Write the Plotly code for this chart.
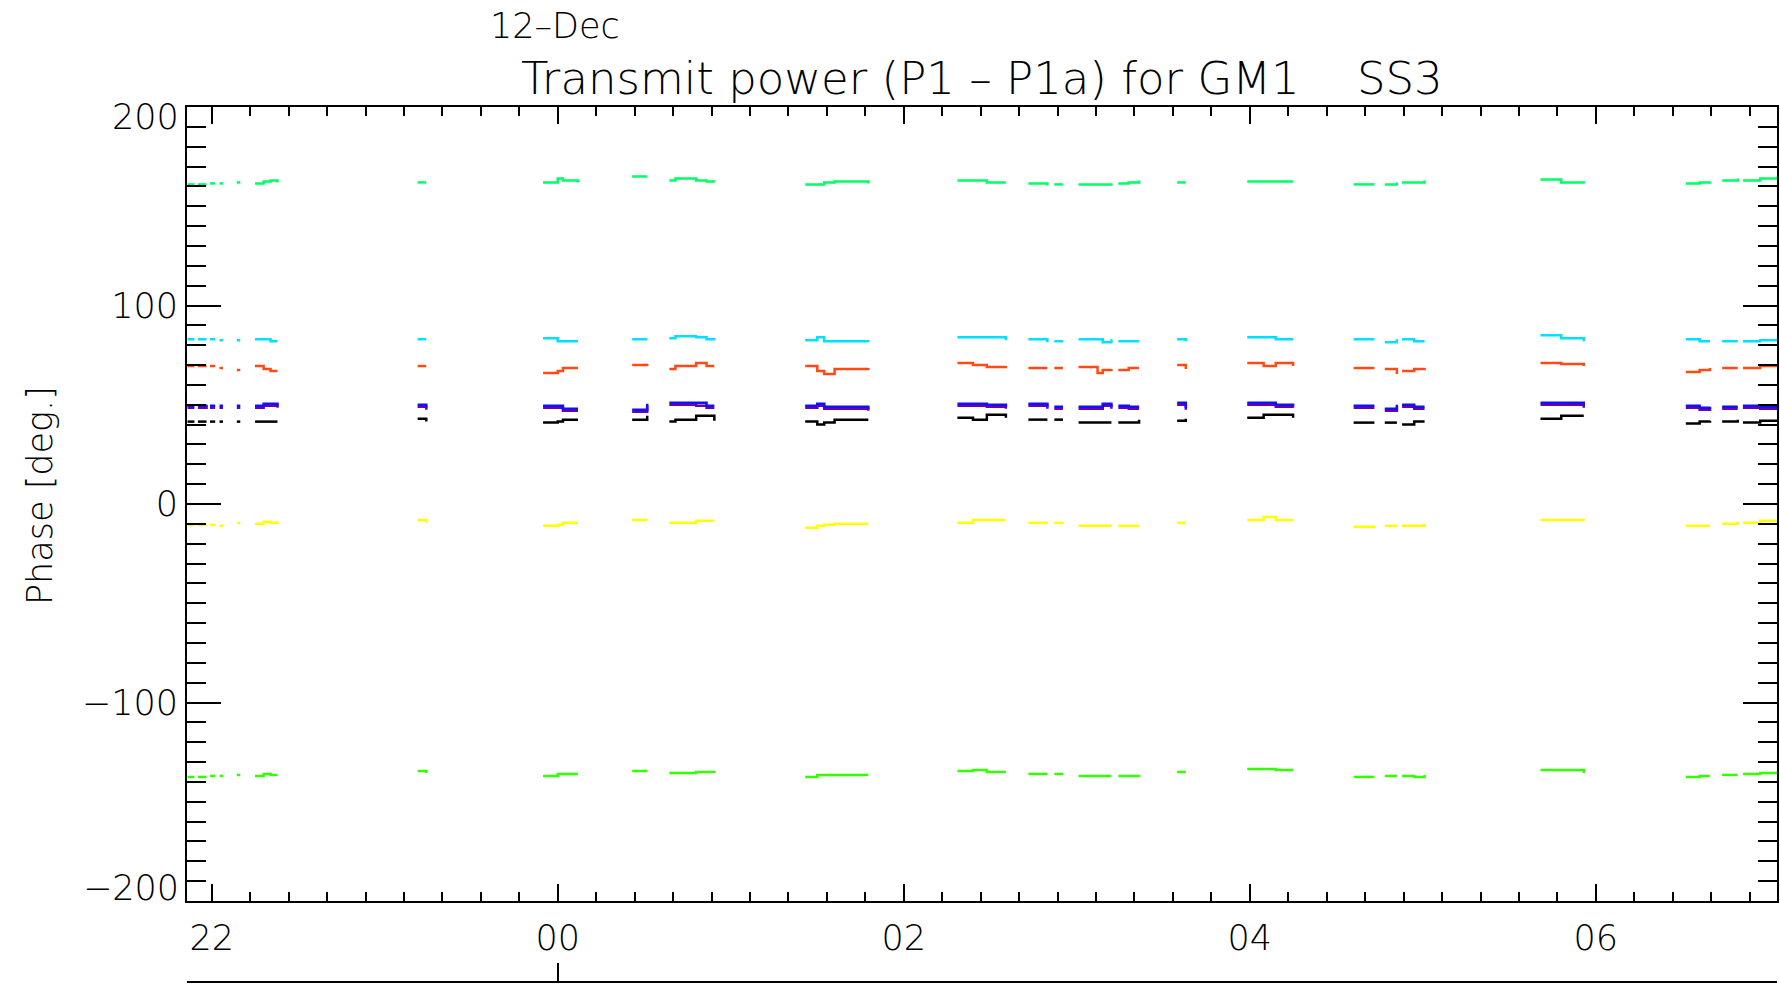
import plotly.graph_objects as go

# ---- data (time in hours relative to 00:00 on 12-Dec; negative = 11-Dec) ----
seg_times = [
    [-2.14, -2.10], [-2.08, -2.03], [-2.01, -1.98], [-1.955, -1.935], [-1.855, -1.835],
    [-1.75, -1.70, -1.66, -1.62], [-0.81, -0.76], [-0.085, 0.0, 0.03, 0.117],
    [0.43, 0.517], [0.645, 0.68, 0.80, 0.86, 0.905], [1.43, 1.50, 1.54, 1.60, 1.795],
    [2.31, 2.40, 2.48, 2.59], [2.72, 2.83], [2.87, 2.92], [3.01, 3.12, 3.15, 3.20],
    [3.24, 3.30, 3.36], [3.58, 3.63], [3.985, 4.08, 4.15, 4.25], [4.60, 4.72],
    [4.78, 4.85], [4.88, 4.95, 5.01], [5.68, 5.80, 5.93], [6.52, 6.60, 6.66],
    [6.73, 6.82], [6.85, 6.95, 7.05],
]

green_top = [
    [161, 161], [161, 161], [161.5, 161.5], [161.5, 161.5], [162, 162],
    [161.5, 162.5, 163, 162], [162, 162], [162, 164, 163, 162],
    [165, 165], [163, 164, 163, 162.5, 162], [161, 161, 162, 162.5, 161.5],
    [163, 163, 162, 162], [161.5, 160.5], [161, 161], [161, 161, 161, 161.5],
    [161.5, 162, 163], [162, 162], [162.5, 162.5, 162.5, 162.5], [161, 161],
    [161, 162], [162, 162, 163], [163.5, 162, 161.5], [161.5, 162, 162.5],
    [163, 164], [163, 164, 165],
]

cyan = [
    [83, 83], [83, 83], [83, 83], [82.5, 82.5], [82.5, 82.5],
    [83, 83, 82, 82], [83, 83], [83.5, 82, 82, 82],
    [83, 83], [83.5, 84.5, 84, 83, 82.5], [82.5, 84, 82, 82, 81.5],
    [84, 84, 84, 82.5], [83, 81.5], [82, 82], [83, 83, 81.5, 83],
    [82, 82, 82], [83, 82], [84, 84, 83, 83], [83, 83],
    [81.5, 83], [83, 82, 82], [85, 83.5, 82], [83, 82, 82],
    [82, 82], [82, 82.5, 83],
]

orange = [
    [69.5, 69.5], [69.5, 69.5], [69.5, 69.5], [68.5, 68.5], [67.5, 67.5],
    [69.5, 68, 67, 67], [69.5, 69.5], [66, 67, 68.5, 68.5],
    [70, 69.5], [68, 69.5, 71, 69.5, 69.5], [69.5, 67, 65.5, 68, 68.5],
    [71, 70, 69, 69.5], [68.5, 68.5], [68.5, 68.5], [69, 66, 67.5, 68],
    [67.5, 68.5, 68.5], [70, 68], [71, 69.5, 71, 69.5], [68.5, 68.5],
    [68, 65.5], [67, 68, 68.5], [71, 70.5, 69.5], [66.5, 67.5, 68.5],
    [68.5, 68.5], [68.5, 69.5, 70],
]

purple = [
    [48.5, 48.5], [48.5, 49], [48.5, 48.5], [48.5, 48.5], [48.5, 48.5],
    [48.5, 49.5, 49.5, 48.5], [49, 47.5], [48.5, 48.5, 47, 47],
    [46.5, 49.5], [50, 50, 49.5, 48.5, 48.5], [48.5, 49.5, 48, 48, 47],
    [49.5, 49.5, 49, 48], [49.5, 48], [48, 48], [48, 48, 49.5, 48],
    [48.5, 48, 48], [50, 47.5], [50, 50, 49, 48.5], [48.5, 48.5],
    [47, 49], [49, 48, 48], [50, 50, 48.5], [48.5, 47.5, 48],
    [48, 48], [48.5, 48, 48.5],
]

blue = [
    [49.5, 49.5], [49.5, 50], [49.5, 49.5], [49.5, 49.5], [49.5, 49.5],
    [49.5, 50.5, 50.5, 49.5], [50, 48.5], [49.5, 49.5, 48, 48],
    [47.5, 50.5], [51, 51, 51, 49.5, 49.5], [49.5, 50.5, 49, 49, 48],
    [50.5, 50.5, 50, 49], [50.5, 49], [49, 49], [49, 49, 50.5, 49],
    [49.5, 49, 49], [51, 48.5], [51, 51, 50, 49.5], [49.5, 49.5],
    [48, 50], [50, 49, 49], [51, 51, 49.5], [49.5, 48.5, 49],
    [49, 49], [49.5, 49, 49.5],
]

black = [
    [41.5, 41.5], [41.5, 41.5], [41.5, 41.5], [41.5, 41.5], [41.5, 41.5],
    [41.5, 41.5, 41.5, 41.5], [43, 41.5], [41, 41.5, 42.5, 42.5],
    [42.5, 44.5], [41.5, 42.5, 44.5, 44.5, 42], [41.5, 40, 41, 42.5, 42.5],
    [43.5, 42.5, 45, 43.5], [42.5, 42.5], [42.5, 42.5], [41, 41, 41, 41],
    [41, 41, 42.5], [42, 43], [43.5, 45, 45, 43.5], [41, 41],
    [41, 41], [40, 41.5, 41.5], [43, 44.5, 44.5], [40.5, 41.5, 42],
    [41.5, 42.5], [41, 42, 42.5],
]

yellow = [
    [-10.5, -10.5], [-10.5, -10.5], [-10.5, -10.5], [-11, -11], [-9.5, -9.5],
    [-10, -9, -9.5, -10], [-8, -9.5], [-11, -10.5, -9.5, -9.5],
    [-8, -8], [-9.5, -9.5, -8.5, -8.5, -8.5], [-12, -11, -10.5, -10, -10],
    [-9.5, -8, -8, -8], [-9.5, -9.5], [-9.5, -9.5], [-11, -11, -11, -11],
    [-11, -11, -11], [-9.5, -9.5], [-8, -6.5, -8, -8], [-11.5, -11],
    [-11, -11], [-11, -11, -10], [-8, -8, -8.5], [-11, -11, -11],
    [-10, -9], [-9.5, -8.5, -8.5],
]

green_bottom = [
    [-137.5, -137.5], [-137.5, -137.5], [-137, -137], [-137, -137], [-136.5, -136.5],
    [-137, -136, -136.5, -136.5], [-134.5, -135.5], [-137, -136, -136, -136],
    [-134.5, -134.5], [-135.5, -135.5, -135, -135, -135.5], [-137.5, -136.5, -136.5, -136.5, -136.5],
    [-134.5, -134, -135, -135], [-136, -136], [-136, -136], [-137, -137, -137, -137],
    [-137, -137, -136.5], [-135, -135], [-133.5, -133.5, -134, -134], [-137.5, -137.5],
    [-137, -137], [-137, -137.5, -136.5], [-134, -134, -135.5], [-137.5, -137, -137],
    [-136.5, -136.5], [-136, -135.5, -135],
]

x_tick_vals = [-2, 0, 2, 4, 6]
x_tick_text = ["22", "00", "02", "04", "06"]
y_tick_vals = [-200, -100, 0, 100, 200]
y_tick_text = ["\u2212200", "\u2212100", "0", "100", "200"]
day_tick = [0]

series = [
    ("green_top", green_top, "#00ff66"),
    ("cyan", cyan, "#00e0ff"),
    ("orange", orange, "#ff4a14"),
    ("purple", purple, "#6a00a8"),
    ("blue", blue, "#1010ff"),
    ("black", black, "#000000"),
    ("yellow", yellow, "#ffff00"),
    ("green_bottom", green_bottom, "#33ff00"),
]


def flatten(times, vals):
    xs, ys = [], []
    for t, v in zip(times, vals):
        xs.extend(t + [None])
        ys.extend(v + [None])
    return xs, ys


fig = go.Figure()
for name, vals, col in series:
    xs, ys = flatten(seg_times, vals)
    fig.add_trace(go.Scatter(x=xs, y=ys, mode="lines", name=name,
                             line=dict(color=col, width=2.5, shape="hv"),
                             connectgaps=False, showlegend=False))

# invisible copy on the lower date axis so that axis gets drawn
xs, ys = flatten(seg_times, black)
fig.add_trace(go.Scatter(x=xs, y=ys, xaxis="x2", mode="lines",
                         line=dict(color="rgba(0,0,0,0)", width=0),
                         hoverinfo="skip", showlegend=False))

W, H = 1780, 990
L, R, T, B = 187, 3, 107, 8
plot_w = W - L - R
plot_h = H - T - B
y_bottom_px = 901
dom0 = (H - B - y_bottom_px) / plot_h

FONT = "DejaVu Sans, Liberation Sans, Arial, sans-serif"
x_range = [-2.143, 7.047]

# inner tick labels (middle ones drawn by the axis, end ones nudged inward like the original)
inner_text = ["" if abs(v) == 200 else t for v, t in zip(y_tick_vals, y_tick_text)]

annotations = [
    dict(text="Transmit power (P1 \u2013 P1a) for GM1\u00a0\u00a0\u00a0\u00a0SS3",
         xref="paper", yref="paper", x=0.5, y=(H - B - 79) / plot_h,
         xanchor="center", yanchor="middle", showarrow=False, borderpad=0,
         font=dict(size=45, family=FONT, weight=300)),
    dict(text="12\u2013Dec", xref="paper", yref="paper",
         x=(489 - L) / plot_w, y=(H - B - 26) / plot_h,
         xanchor="left", yanchor="middle", showarrow=False, borderpad=0,
         font=dict(size=35, family=FONT, weight=300)),
    dict(text="Phase [deg.]", xref="paper", yref="paper",
         x=(40 - L) / plot_w, y=(H - B - 496) / plot_h,
         xanchor="center", yanchor="middle", textangle=-90, showarrow=False,
         font=dict(size=35, family=FONT, weight=300)),
]
for v, t in zip(y_tick_vals, y_tick_text):
    if abs(v) == 200:
        annotations.append(dict(
            text=t, xref="paper", yref="y", x=(181 - L) / plot_w, y=v,
            xanchor="right", yanchor="middle", showarrow=False,
            yshift=-10 if v > 0 else 13,
            font=dict(size=35, family=FONT, weight=300)))

fig.update_layout(
    width=W, height=H,
    margin=dict(l=L, r=R, t=T, b=B, pad=0, autoexpand=False),
    paper_bgcolor="white", plot_bgcolor="white",
    font=dict(family=FONT, color="black", weight=300),
    xaxis=dict(
        range=x_range, anchor="y", automargin=False,
        tickmode="array", tickvals=x_tick_vals, ticktext=x_tick_text,
        ticks="inside", ticklen=17, tickwidth=2, tickcolor="black",
        showline=True, linecolor="black", linewidth=2, mirror="ticks",
        showgrid=False, zeroline=False,
        tickfont=dict(size=35, family=FONT, weight=300),
        ticklabelstandoff=5,
        minor=dict(tickmode="linear", tick0=0, dtick=2 / 9, ticks="inside",
                   ticklen=9, tickwidth=2, tickcolor="black", showgrid=False),
    ),
    xaxis2=dict(
        range=x_range, overlaying="x", anchor="free", position=0, automargin=False,
        tickmode="array", tickvals=day_tick, ticks="inside", ticklen=18, tickwidth=2,
        tickcolor="black", showticklabels=False,
        showline=True, linecolor="black", linewidth=2,
        showgrid=False, zeroline=False,
    ),
    yaxis=dict(
        range=[-200, 200], domain=[dom0, 1], automargin=False,
        tickmode="array", tickvals=y_tick_vals, ticktext=inner_text,
        ticks="inside", ticklen=34, tickwidth=2, tickcolor="black",
        showline=True, linecolor="black", linewidth=2, mirror="ticks",
        showgrid=False, zeroline=False,
        tickfont=dict(size=35, family=FONT, weight=300),
        ticklabelstandoff=0,
        minor=dict(tickmode="linear", tick0=0, dtick=10, ticks="inside",
                   ticklen=19, tickwidth=2, tickcolor="black", showgrid=False),
    ),
    annotations=annotations,
)

fig.write_html("out.html", config={"displayModeBar": False},
               post_script="document.body.style.margin='0';document.body.style.overflow='hidden';")
